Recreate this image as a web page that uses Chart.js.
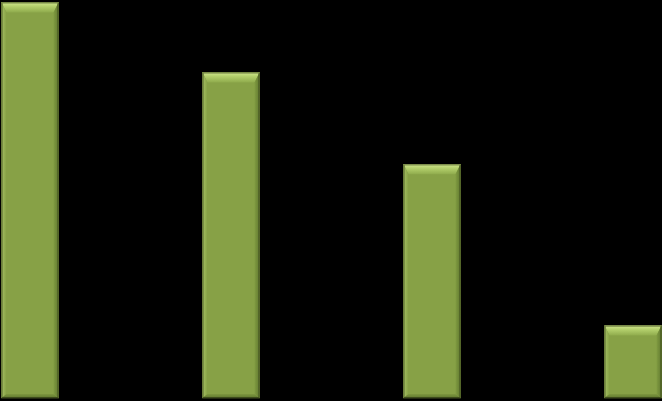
<!DOCTYPE html>
<html>
<head>
<meta charset="utf-8">
<script src="https://cdn.jsdelivr.net/npm/chart.js@4"></script>
<style>
html,body{margin:0;padding:0;background:#000;}
#wrap{width:662px;height:401px;position:relative;}
</style>
</head>
<body>
<div id="wrap"><canvas id="c"></canvas></div>
<script>
const categories = ["A", "B", "C", "D"];
const values = [99.4, 81.8, 58.7, 18.2];
const yMax = 100;

const bevel = {
  id: 'bevel',
  afterDatasetsDraw(chart) {
    const ctx = chart.ctx;
    chart.getDatasetMeta(0).data.forEach(bar => {
      const p = bar.getProps(['x', 'y', 'base', 'width'], true);
      const l = p.x - p.width / 2, r = p.x + p.width / 2, t = p.y, b = p.base;
      ctx.save();
      const tb = 10;
      let g = ctx.createLinearGradient(0, t, 0, t + tb);
      g.addColorStop(0, '#d2e88e');
      g.addColorStop(0.4, '#b3cf6c');
      g.addColorStop(1, '#8fab4c');
      ctx.fillStyle = g;
      ctx.beginPath();
      ctx.moveTo(l, t); ctx.lineTo(r, t); ctx.lineTo(r - 5, t + tb); ctx.lineTo(l + 5, t + tb); ctx.closePath();
      ctx.fill();
      g = ctx.createLinearGradient(l, 0, l + 5, 0);
      g.addColorStop(0, '#a6c264'); g.addColorStop(1, '#87a146');
      ctx.fillStyle = g;
      ctx.beginPath();
      ctx.moveTo(l, t); ctx.lineTo(l + 5, t + tb); ctx.lineTo(l + 5, b - 4); ctx.lineTo(l, b); ctx.closePath();
      ctx.fill();
      g = ctx.createLinearGradient(r - 5, 0, r, 0);
      g.addColorStop(0, '#809b41'); g.addColorStop(1, '#627a30');
      ctx.fillStyle = g;
      ctx.beginPath();
      ctx.moveTo(r, t); ctx.lineTo(r - 5, t + tb); ctx.lineTo(r - 5, b - 4); ctx.lineTo(r, b); ctx.closePath();
      ctx.fill();
      g = ctx.createLinearGradient(0, b - 4, 0, b);
      g.addColorStop(0, '#7d973f'); g.addColorStop(1, '#5f772f');
      ctx.fillStyle = g;
      ctx.beginPath();
      ctx.moveTo(l, b); ctx.lineTo(l + 5, b - 4); ctx.lineTo(r - 5, b - 4); ctx.lineTo(r, b); ctx.closePath();
      ctx.fill();
      ctx.strokeStyle = 'rgba(45,55,20,0.7)';
      ctx.lineWidth = 1;
      ctx.strokeRect(l + 0.5, t + 0.5, p.width - 1, b - t - 1);
      ctx.restore();
    });
  }
};

new Chart(document.getElementById('c'), {
  type: 'bar',
  data: {
    labels: categories,
    datasets: [{
      data: values,
      backgroundColor: '#87a146',
      borderWidth: 0,
      barThickness: 57,
      clip: false
    }]
  },
  options: {
    responsive: true,
    maintainAspectRatio: false,
    animation: false,
    events: [],
    layout: { padding: { left: 30, right: 29, top: 0, bottom: 3 } },
    plugins: { legend: { display: false }, tooltip: { enabled: false } },
    scales: {
      x: { display: false, offset: false, grid: { display: false } },
      y: { display: false, min: 0, max: yMax, grid: { display: false } }
    }
  },
  plugins: [bevel]
});
</script>
</body>
</html>
